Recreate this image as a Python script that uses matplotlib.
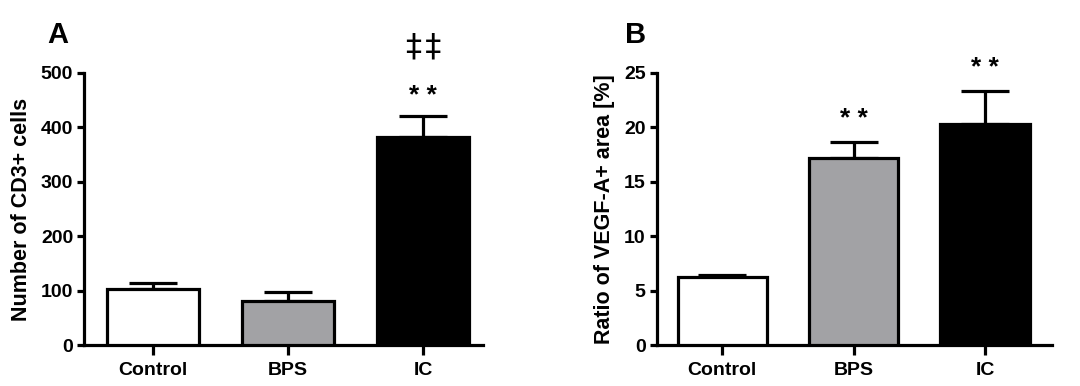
import numpy as np
import matplotlib
matplotlib.use("Agg")
import matplotlib.pyplot as plt

plt.rcParams["font.family"] = ["Liberation Sans", "DejaVu Sans"]
plt.rcParams["font.weight"] = "bold"

# ── data ─────────────────────────────────────────────────────────────────────
groups = ["Control", "BPS", "IC"]
bar_colors = ["white", "#a2a2a5", "black"]

cd3_mean = [103, 81, 382]
cd3_err = [11, 16, 39]
cd3_marks = ["", "", "* *"]
cd3_marks2 = ["", "", "\u2021\u200a\u2021"]

vegf_mean = [6.25, 17.2, 20.3]
vegf_err = [0.2, 1.5, 3.05]
vegf_marks = ["", "* *", "* *"]

LW = 2.3


def bar_panel(ax, means, errs, ymax, step, ylabel):
    x = np.arange(len(groups))
    ax.bar(x, means, width=0.68, color=bar_colors, edgecolor="black",
           linewidth=LW, zorder=3)
    ax.errorbar(x, means, yerr=[np.zeros(len(errs)), errs], fmt="none",
                ecolor="black", elinewidth=LW, capsize=17, capthick=LW,
                zorder=2)
    ax.set_ylim(0, ymax)
    ax.set_yticks(np.arange(0, ymax + step / 2, step))
    ax.set_xticks(x)
    ax.set_xticklabels(groups)
    ax.set_ylabel(ylabel, fontsize=15.5, fontweight="bold", labelpad=6)
    for side in ("top", "right"):
        ax.spines[side].set_visible(False)
    for side in ("left", "bottom"):
        ax.spines[side].set_linewidth(LW)
    ax.tick_params(width=LW, length=5, labelsize=14, pad=3)
    ax.tick_params(axis="x", length=7, pad=5)
    for lab in ax.get_xticklabels() + ax.get_yticklabels():
        lab.set_fontweight("bold")
    return x


fig = plt.figure(figsize=(10.8, 3.86), dpi=100)

# ── panel A ──────────────────────────────────────────────────────────────────
axA = fig.add_axes([0.078, 0.106, 0.369, 0.705])
x = bar_panel(axA, cd3_mean, cd3_err, 500, 100, "Number of CD3+ cells")
axA.set_xlim(-0.51, 2.44)
for xi, s1, s2 in zip(x, cd3_marks, cd3_marks2):
    if s1:
        axA.text(xi, 444, s1, ha="center", va="baseline",
                 fontsize=19, fontweight="bold", clip_on=False)
    if s2:
        axA.text(xi, 547, s2, ha="center", va="center",
                 fontsize=23, fontweight="normal",
                 family=["DejaVu Sans", "DejaVu Serif"], clip_on=False)
fig.text(0.044, 0.889, "A", fontsize=21, fontweight="bold", va="baseline")

# ── panel B ──────────────────────────────────────────────────────────────────
axB = fig.add_axes([0.608, 0.106, 0.366, 0.705])
x = bar_panel(axB, vegf_mean, vegf_err, 25, 5, "Ratio of VEGF-A+ area [%]")
axB.set_xlim(-0.50, 2.51)
for xi, m, e, s in zip(x, vegf_mean, vegf_err, vegf_marks):
    if s:
        axB.text(xi, m + e + 1.45, s, ha="center", va="baseline",
                 fontsize=19, fontweight="bold", clip_on=False)
fig.text(0.579, 0.889, "B", fontsize=21, fontweight="bold", va="baseline")

fig.savefig("out.png", dpi=100)
